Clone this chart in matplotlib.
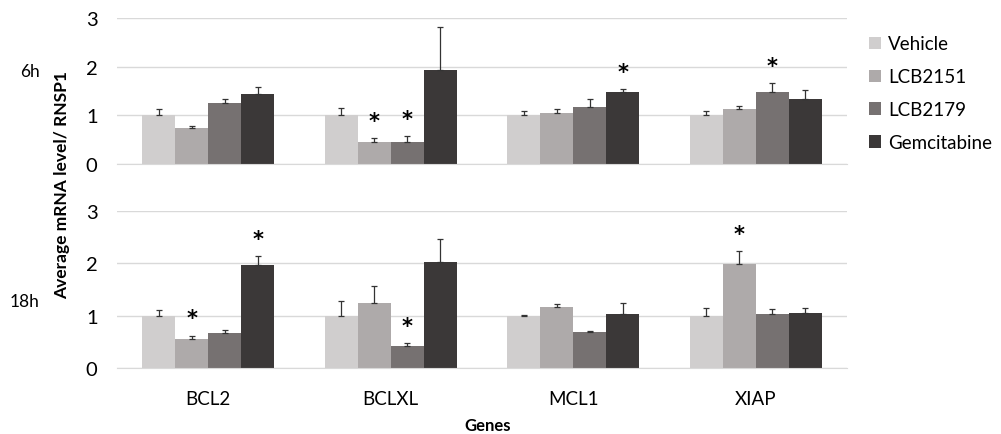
import matplotlib.pyplot as plt
import numpy as np

plt.rcParams['font.family'] = ['Lato', 'DejaVu Sans']

genes = ["BCL2", "BCLXL", "MCL1", "XIAP"]
series = ["Vehicle", "LCB2151", "LCB2179", "Gemcitabine"]
colors = ["#d0cece", "#aeaaaa", "#767171", "#3b3838"]

# 6h: mean and upper error per series, in gene order
mean_6h = [
    [1.00, 1.00, 1.00, 1.00],
    [0.74, 0.46, 1.05, 1.13],
    [1.26, 0.46, 1.18, 1.48],
    [1.43, 1.94, 1.48, 1.34],
]
err_6h = [
    [0.13, 0.15, 0.08, 0.08],
    [0.05, 0.07, 0.08, 0.06],
    [0.07, 0.11, 0.15, 0.18],
    [0.16, 0.87, 0.06, 0.19],
]
# (series, gene) pairs marked significant
sig_6h = [(1, 1), (2, 1), (3, 2), (2, 3)]

# 18h
mean_18h = [
    [1.00, 1.00, 1.00, 1.00],
    [0.55, 1.25, 1.16, 1.99],
    [0.67, 0.42, 0.68, 1.04],
    [1.97, 2.02, 1.03, 1.06],
]
err_18h = [
    [0.10, 0.29, 0.02, 0.15],
    [0.07, 0.32, 0.07, 0.24],
    [0.05, 0.06, 0.03, 0.08],
    [0.17, 0.44, 0.22, 0.08],
]
sig_18h = [(1, 0), (3, 0), (2, 1), (1, 3)]

fig = plt.figure(figsize=(10.01, 4.35), dpi=100)
ax1 = fig.add_axes([0.1169, 0.6207, 0.7293, 0.3356])
ax2 = fig.add_axes([0.1169, 0.1517, 0.7293, 0.3609])

x = np.arange(len(genes))
w = 0.181

def draw(ax, means, errs, sig, labels):
    for i in range(len(series)):
        pos = x + (i - 1.5) * w
        ax.bar(pos, means[i], w, color=colors[i], label=series[i], zorder=2)
        ax.errorbar(pos, means[i], yerr=[np.zeros(len(genes)), errs[i]],
                    fmt='none', ecolor='#333333', elinewidth=0.9,
                    capsize=2.2, capthick=0.9, zorder=3)
    for s, g in sig:
        top = means[s][g] + errs[s][g]
        ax.annotate("*", (x[g] + (s - 1.5) * w, top), xytext=(0, 8),
                    textcoords='offset points', ha='center', va='baseline',
                    fontsize=15, fontweight='bold', family='DejaVu Sans')
    ax.set_xlim(-0.5, 3.5)
    ax.set_ylim(0, 3)
    ax.set_yticks([0, 1, 2, 3])
    ax.yaxis.grid(True, color='#d9d9d9', lw=1, zorder=0)
    ax.set_axisbelow(True)
    for sp in ['top', 'right', 'left']:
        ax.spines[sp].set_visible(False)
    ax.spines['bottom'].set_color('#d9d9d9')
    ax.tick_params(axis='y', length=0, labelsize=14.5, pad=14)
    ax.tick_params(axis='x', length=0, labelsize=13.5, pad=16)
    if labels:
        ax.set_xticks(x)
        ax.set_xticklabels(genes)
    else:
        ax.set_xticks([])

draw(ax1, mean_6h, err_6h, sig_6h, False)
draw(ax2, mean_18h, err_18h, sig_18h, True)

fig.text(0.020, 0.834, "6h", fontsize=12.5, ha='left', va='center')
fig.text(0.010, 0.305, "18h", fontsize=12.5, ha='left', va='center')
fig.text(0.062, 0.575, "Average mRNA level/ RNSP1", rotation=90,
         fontsize=12.5, fontweight='bold', ha='center', va='center')
fig.text(0.487, 0.021, "Genes", fontsize=12, fontweight='bold',
         ha='center', va='center')

handles, lbls = ax1.get_legend_handles_labels()
fig.legend(handles, lbls, loc='upper left', bbox_to_anchor=(0.851, 0.955),
           frameon=False, fontsize=13.5, handlelength=0.65, handleheight=0.65,
           handletextpad=0.4, labelspacing=0.85)

fig.savefig("out.png", dpi=100)
